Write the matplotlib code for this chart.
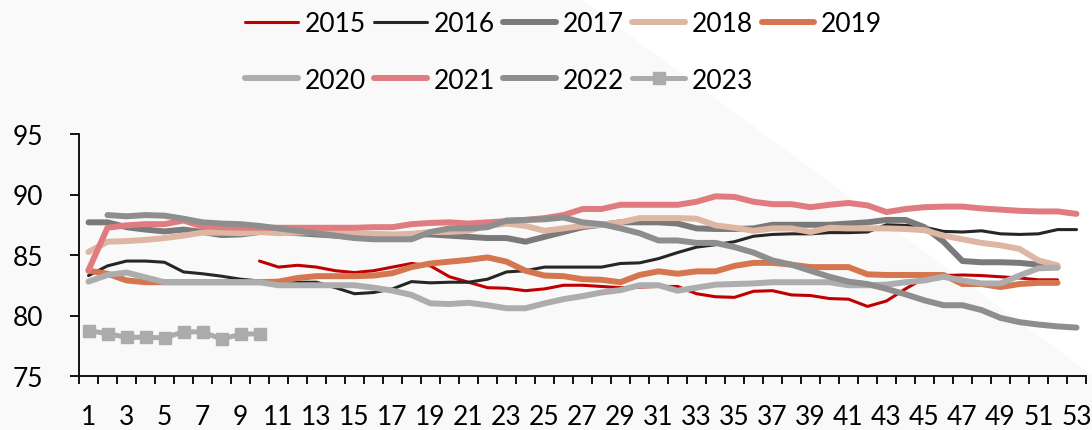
import numpy as np
import matplotlib
matplotlib.use('Agg')
import matplotlib.pyplot as plt
from matplotlib.patches import Polygon

plt.rcParams['font.family'] = ['Lato', 'DejaVu Sans']

weeks = np.arange(1, 54)

# 各年の週次データ (開始週, 値)
y2015 = (10, [84.5, 84.0, 84.15, 84.0, 83.7, 83.55, 83.7, 84.0, 84.3, 84.1,
              83.2, 82.75, 82.3, 82.25, 82.05, 82.2, 82.5, 82.5, 82.4, 82.3,
              82.35, 82.4, 82.4, 81.8, 81.55, 81.5, 82.0, 82.05, 81.7, 81.65,
              81.4, 81.35, 80.75, 81.2, 82.2, 83.1, 83.3, 83.35, 83.3, 83.2,
              83.1, 82.95, 82.95])
y2016 = (1, [83.3, 84.1, 84.5, 84.5, 84.4, 83.6, 83.45, 83.25, 83.0, 82.85,
             82.75, 82.75, 82.75, 82.3, 81.8, 81.9, 82.2, 82.8, 82.7, 82.75,
             82.75, 83.0, 83.6, 83.7, 84.0, 84.0, 84.0, 84.0, 84.3, 84.35,
             84.7, 85.2, 85.65, 85.85, 86.1, 86.55, 86.7, 86.75, 86.75, 86.85,
             86.85, 86.9, 87.5, 87.45, 87.3, 86.95, 86.9, 87.0, 86.75, 86.7,
             86.75, 87.1, 87.1])
y2017 = (1, [87.7, 87.7, 87.3, 87.1, 86.95, 87.1, 86.9, 86.65, 86.7, 86.9,
             86.9, 86.8, 86.7, 86.6, 86.5, 86.45, 86.4, 86.7, 86.7, 86.6,
             86.5, 86.4, 86.4, 86.1, 86.5, 86.9, 87.3, 87.5, 87.7, 87.7,
             87.7, 87.6, 87.2, 87.15, 87.15, 87.2, 87.5, 87.5, 87.5, 87.5,
             87.6, 87.7, 87.9, 87.9, 87.3, 86.1, 84.5, 84.4, 84.4, 84.35,
             84.2, 84.0])
y2018 = (1, [85.25, 86.1, 86.15, 86.25, 86.4, 86.6, 86.85, 86.85, 86.8, 86.9,
             86.8, 86.85, 86.9, 86.85, 86.8, 86.75, 86.7, 86.75, 86.9, 86.9,
             87.0, 87.4, 87.6, 87.4, 87.0, 87.2, 87.4, 87.5, 87.7, 88.05,
             88.05, 88.05, 88.0, 87.45, 87.25, 87.0, 87.2, 87.2, 86.9, 87.25,
             87.2, 87.2, 87.2, 87.15, 87.05, 86.6, 86.3, 86.0, 85.8, 85.5,
             84.55, 84.15])
y2019 = (1, [83.7, 83.45, 82.9, 82.75, 82.75, 82.75, 82.75, 82.75, 82.75, 82.75,
             82.8, 83.1, 83.25, 83.25, 83.25, 83.3, 83.5, 84.0, 84.3, 84.45,
             84.6, 84.8, 84.45, 83.7, 83.3, 83.25, 83.0, 82.95, 82.75, 83.35,
             83.65, 83.45, 83.65, 83.65, 84.1, 84.35, 84.35, 84.2, 84.0, 84.0,
             84.0, 83.4, 83.35, 83.35, 83.35, 83.35, 82.6, 82.6, 82.35, 82.6,
             82.7, 82.7])
y2020 = (1, [82.8, 83.35, 83.55, 83.15, 82.75, 82.75, 82.75, 82.75, 82.75, 82.75,
             82.5, 82.5, 82.5, 82.5, 82.5, 82.3, 82.05, 81.7, 81.0, 80.95,
             81.05, 80.85, 80.6, 80.6, 81.0, 81.35, 81.6, 81.9, 82.1, 82.5,
             82.5, 82.05, 82.3, 82.55, 82.6, 82.65, 82.75, 82.75, 82.75, 82.75,
             82.5, 82.5, 82.55, 82.75, 82.9, 83.2, 82.9, 82.65, 82.65, 83.3,
             83.9, 83.95])
y2021 = (1, [83.75, 87.25, 87.45, 87.55, 87.55, 87.85, 87.35, 87.3, 87.25, 87.25,
             87.25, 87.25, 87.25, 87.25, 87.25, 87.3, 87.3, 87.55, 87.65, 87.7,
             87.6, 87.7, 87.8, 87.9, 88.05, 88.3, 88.8, 88.8, 89.15, 89.15,
             89.15, 89.15, 89.4, 89.85, 89.8, 89.4, 89.2, 89.2, 88.95, 89.15,
             89.3, 89.1, 88.55, 88.8, 88.95, 89.0, 89.0, 88.85, 88.75, 88.65,
             88.6, 88.6, 88.4])
y2022 = (2, [88.3, 88.2, 88.3, 88.25, 88.0, 87.7, 87.6, 87.55, 87.4,
             87.2, 87.0, 86.8, 86.6, 86.4, 86.3, 86.3, 86.3, 86.9, 87.2,
             87.2, 87.3, 87.85, 87.9, 87.95, 88.1, 87.7, 87.55, 87.2, 86.8,
             86.2, 86.2, 86.0, 86.0, 85.65, 85.2, 84.55, 84.2, 83.7, 83.2,
             82.8, 82.6, 82.2, 81.75, 81.25, 80.85, 80.85, 80.45, 79.8, 79.45,
             79.25, 79.1, 79.0])
y2023 = (1, [78.75, 78.5, 78.2, 78.2, 78.15, 78.65, 78.65, 78.05, 78.45, 78.5])

labels = ['2015', '2016', '2017', '2018', '2019', '2020', '2021', '2022', '2023']
series = [y2015, y2016, y2017, y2018, y2019, y2020, y2021, y2022, y2023]
colors = ['#C00000', '#262626', '#7A7A7A', '#DDB6A4', '#D6764F',
          '#ADADAD', '#E07C80', '#8E8E8E', '#ABABAB']
widths = [2.2, 2.2, 4.3, 4.3, 4.3, 4.3, 4.3, 4.3, 3.6]


def to_full(start, vals):
    # 53週分の配列にする（データのない週はNaN）
    arr = np.full(len(weeks), np.nan)
    arr[start - 1:start - 1 + len(vals)] = vals
    return arr


fig = plt.figure(figsize=(10.92, 4.31), dpi=100, facecolor='#F9F9F9')
# 右上の白い三角（背景）
fig.patches.append(Polygon([(580 / 1092, 1), (1, 1), (1, 1 - 376 / 431)],
                           closed=True, transform=fig.transFigure,
                           facecolor='white', edgecolor='none', zorder=-10))

ax = fig.add_axes([79 / 1092, 1 - 377 / 431, 1007 / 1092, 242 / 431])
ax.set_facecolor('none')
ax.set_zorder(1)

handles = []
for (start, vals), lab, c, lw in zip(series, labels, colors, widths):
    y = to_full(start, vals)
    if lab == '2023':
        h, = ax.plot(weeks, y, color=c, lw=lw, marker='s', markersize=8.5,
                     label=lab, solid_joinstyle='round', solid_capstyle='round')
    else:
        h, = ax.plot(weeks, y, color=c, lw=lw, label=lab,
                     solid_joinstyle='round', solid_capstyle='round')
    handles.append(h)

ax.set_xlim(0.5, 53.5)
ax.set_ylim(75, 95)
ax.set_yticks([75, 80, 85, 90, 95])

# 目盛線は週の境界、ラベルは奇数週
ax.set_xticks(np.arange(0.5, 54, 1))
ax.set_xticklabels([])
ax.set_xticks(np.arange(1, 54, 2), minor=True)
ax.set_xticklabels([str(w) for w in range(1, 54, 2)], minor=True)
ax.tick_params(axis='x', which='major', direction='out', length=6, width=1.3,
               color='black')
ax.tick_params(axis='x', which='minor', length=0, pad=20, labelsize=19)
ax.tick_params(axis='y', direction='out', length=6.5, width=1.3, pad=19,
               labelsize=19)

for s in ['top', 'right']:
    ax.spines[s].set_visible(False)
for s in ['left', 'bottom']:
    ax.spines[s].set_linewidth(1.3)
    ax.spines[s].set_color('black')

# 凡例は2段（上段2015-2019、下段2020-2023）
order = [0, 5, 1, 6, 2, 7, 3, 8, 4]
fig.legend([handles[i] for i in order], [labels[i] for i in order],
           loc='upper left', bbox_to_anchor=(245 / 1092, 1 - 12 / 431),
           ncol=5, frameon=False, fontsize=19, handlelength=2.0,
           handletextpad=0.25, columnspacing=0.32, labelspacing=1.2,
           borderpad=0, borderaxespad=0)

fig.savefig('out.png', dpi=100, facecolor=fig.get_facecolor())
